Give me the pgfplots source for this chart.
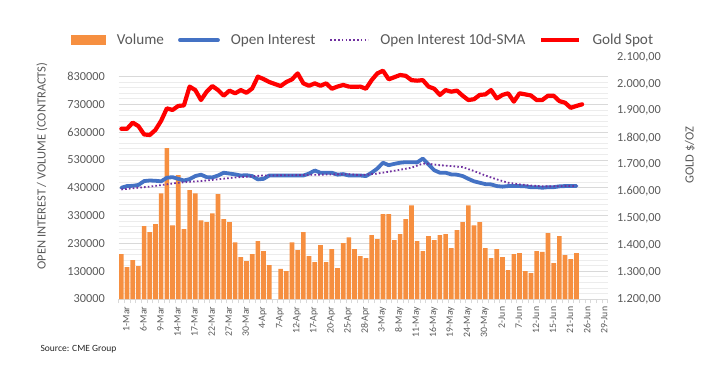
\documentclass[border=0pt]{standalone}
\usepackage{pgfplots}
\pgfplotsset{compat=1.18}
\usepackage{fontspec}
\setmainfont{Carlito}
\definecolor{volc}{RGB}{246,143,64}
\definecolor{oic}{RGB}{68,114,196}
\definecolor{smac}{RGB}{112,48,160}
\definecolor{txt}{RGB}{89,89,89}
\definecolor{gridc}{RGB}{217,217,217}
\definecolor{gridm}{RGB}{236,236,236}
\pgfplotsset{
  linelegend/.style={legend image code/.code={\draw[##1] (0bp,0bp) -- (38bp,0bp);}},
  barlegend/.style={legend image code/.code={\fill[volc] (0bp,-5bp) rectangle (35bp,5bp);}},
}

\begin{document}
\begin{tikzpicture}[x=1bp,y=1bp]
\path[use as bounding box] (0,0) rectangle (721,381);
\begin{axis}[
  at={(118.5bp,82bp)}, anchor=south west,
  width=489.2bp, height=242bp, scale only axis,
  xmin=-0.5, xmax=85.5, ymin=30000, ymax=900000,
  ytick={30000,130000,...,830000},
  minor y tick num=4,
  ymajorgrids, yminorgrids,
  major grid style={gridc, line width=0.7bp},
  minor grid style={gridm, line width=0.6bp},
  axis x line*=bottom, axis y line*=left,
  x axis line style={gridc, line width=0.8bp},
  y axis line style={draw=none},
  ytick style={draw=none},
  scaled y ticks=false,
  yticklabel={\pgfmathprintnumber[fixed, precision=0, 1000 sep={}, assume math mode=true]{\tick}},
  y tick label style={font=\fontsize{12.3bp}{14bp}\selectfont, text=txt, xshift=-6bp},
  xtick={0,3,...,84},
  xticklabels={1-Mar,6-Mar,9-Mar,14-Mar,17-Mar,22-Mar,27-Mar,30-Mar,4-Apr,7-Apr,12-Apr,17-Apr,20-Apr,25-Apr,28-Apr,3-May,8-May,11-May,16-May,19-May,24-May,30-May,2-Jun,7-Jun,12-Jun,15-Jun,21-Jun,26-Jun,29-Jun},
  x tick label style={rotate=90, anchor=east, font=\fontsize{9.8bp}{11bp}\selectfont, text=txt, yshift=-5bp},
  major x tick style={draw=none},
  minor xtick={-0.5,0.5,...,85.5},
  minor x tick style={gridc, line width=0.6bp},
  minor tick length=4bp, tick align=outside,
  legend columns=4,
  legend style={at={(axis description cs:0.4998,1.07)}, anchor=center, draw=none, fill=none,
    font=\fontsize{15.2bp}{17bp}\selectfont, text=txt,
    /tikz/every odd column/.append style={column sep=9bp},
    /tikz/every even column/.append style={column sep=12bp}},
  clip=true,
]
\addplot[ybar, bar width=0.82, fill=volc, draw=none, barlegend]
  table[row sep=\\]{
x y\\
0 191000\\ 1 145000\\ 2 170000\\ 3 148000\\ 4 292000\\ 5 270000\\ 6 299000\\ 7 410000\\
8 572000\\ 9 295000\\ 10 475000\\ 11 281000\\ 12 421000\\ 13 410000\\ 14 313000\\ 15 306000\\
16 338000\\ 17 407000\\ 18 317000\\ 19 306000\\ 20 234000\\ 21 181000\\ 22 166000\\ 23 191000\\
24 238000\\ 25 202000\\ 26 152000\\ 28 138000\\ 29 130000\\ 30 234000\\ 31 206000\\ 32 270000\\
33 184000\\ 34 163000\\ 35 224000\\ 36 163000\\ 37 209000\\ 38 141000\\ 39 231000\\ 40 252000\\
41 209000\\ 42 184000\\ 43 177000\\ 44 260000\\ 45 245000\\ 46 335000\\ 47 335000\\ 48 242000\\
49 263000\\ 50 317000\\ 51 367000\\ 52 238000\\ 53 202000\\ 54 256000\\ 55 242000\\ 56 260000\\
57 263000\\ 58 213000\\ 59 278000\\ 60 306000\\ 61 367000\\ 62 295000\\ 63 306000\\ 64 213000\\
65 177000\\ 66 209000\\ 67 181000\\ 68 134000\\ 69 191000\\ 70 195000\\ 71 130000\\ 72 123000\\
73 202000\\ 74 199000\\ 75 267000\\ 76 159000\\ 77 256000\\ 78 188000\\ 79 173000\\ 80 195000\\
};
\addlegendentry{Volume}
\addplot[oic, line width=3.8bp, line join=round, line cap=round, linelegend]
  table[row sep=\\]{
x y\\
0 430000\\ 1 436000\\ 2 437000\\ 3 440000\\ 4 454000\\ 5 456000\\ 6 455000\\ 7 453000\\
8 466000\\ 9 468000\\ 10 462000\\ 11 456000\\ 12 461000\\ 13 472000\\ 14 477000\\ 15 468000\\
16 467000\\ 17 474000\\ 18 484000\\ 19 481000\\ 20 478000\\ 21 474000\\ 22 475000\\ 23 472000\\
24 460000\\ 25 462000\\ 26 474000\\ 28 474000\\ 29 474000\\ 30 474000\\ 31 474000\\ 32 474000\\
33 481000\\ 34 492000\\ 35 484000\\ 36 484000\\ 37 484000\\ 38 477000\\ 39 479000\\ 40 474000\\
41 474000\\ 42 474000\\ 43 472000\\ 44 484000\\ 45 499000\\ 46 520000\\ 47 511000\\ 48 516000\\
49 520000\\ 50 522000\\ 51 522000\\ 52 521000\\ 53 535000\\ 54 514000\\ 55 493000\\ 56 484000\\
57 484000\\ 58 478000\\ 59 477000\\ 60 472000\\ 61 462000\\ 62 453000\\ 63 448000\\ 64 443000\\
65 442000\\ 66 436000\\ 67 434000\\ 68 436000\\ 69 436000\\ 70 436000\\ 71 435000\\ 72 432000\\
73 432000\\ 74 430000\\ 75 432000\\ 76 432000\\ 77 435000\\ 78 436000\\ 79 436000\\ 80 436000\\
};
\addlegendentry{Open Interest}
\addplot[smac, line width=1.8bp, dash pattern=on 1.6bp off 2.2bp, linelegend]
  table[row sep=\\]{
x y\\
0 424000\\ 5 434000\\ 10 448000\\ 15 456000\\ 20 467000\\ 25 474000\\ 30 475000\\ 35 477000\\
40 479000\\ 42 475000\\ 45 481000\\ 48 491000\\ 51 502000\\ 53 517000\\ 54 516000\\ 56 511000\\
58 508000\\ 60 504000\\ 62 490000\\ 64 474000\\ 66 460000\\ 68 448000\\ 70 442000\\ 72 438000\\
74 435000\\ 76 435000\\ 78 436000\\ 80 436000\\
};
\addlegendentry{Open Interest 10d-SMA}
\addlegendimage{red, line width=4.2bp, linelegend}
\addlegendentry{Gold Spot}
\end{axis}
\begin{axis}[
  at={(118.5bp,82bp)}, anchor=south west,
  width=489.2bp, height=242bp, scale only axis,
  xmin=-0.5, xmax=85.5, ymin=1200, ymax=2100,
  axis x line=none, axis y line*=right,
  y axis line style={draw=none},
  ytick={1200,1300,...,2100},
  ytick style={draw=none},
  yticklabel={\pgfmathprintnumber[fixed, fixed zerofill, precision=2, use comma, 1000 sep={.}, assume math mode=true]{\tick}},
  y tick label style={font=\fontsize{12.3bp}{14bp}\selectfont, text=txt, xshift=6bp},
]
\addplot[red, line width=4.2bp, line join=round, line cap=round] table[row sep=\\]{
x y\\
0 1833\\ 1 1833\\ 2 1856\\ 3 1843\\ 4 1812\\ 5 1810\\ 6 1829\\ 7 1863\\
8 1909\\ 9 1903\\ 10 1918\\ 11 1920\\ 12 1990\\ 13 1977\\ 14 1940\\ 15 1971\\
16 1992\\ 17 1977\\ 18 1956\\ 19 1975\\ 20 1965\\ 21 1977\\ 22 1967\\ 23 1983\\
24 2027\\ 25 2018\\ 26 2007\\ 28 1992\\ 29 2007\\ 30 2017\\ 31 2039\\ 32 2002\\
33 1993\\ 34 2002\\ 35 1993\\ 36 2002\\ 37 1982\\ 38 1990\\ 39 1996\\ 40 1990\\
41 1989\\ 42 1990\\ 43 1982\\ 44 2014\\ 45 2039\\ 46 2049\\ 47 2017\\ 48 2025\\
49 2033\\ 50 2030\\ 51 2014\\ 52 2012\\ 53 2014\\ 54 1990\\ 55 1982\\ 56 1959\\
57 1977\\ 58 1971\\ 59 1975\\ 60 1956\\ 61 1940\\ 62 1943\\ 63 1959\\ 64 1961\\
65 1977\\ 66 1946\\ 67 1959\\ 68 1965\\ 69 1934\\ 70 1965\\ 71 1961\\ 72 1957\\
73 1940\\ 74 1940\\ 75 1956\\ 76 1956\\ 77 1936\\ 78 1930\\ 79 1911\\ 80 1918\\ 81 1924\\
};
\end{axis}
\node[rotate=90, text=txt, font=\fontsize{12.5bp}{14bp}\selectfont] at (42,215) {OPEN INTEREST / VOLUME (CONTRACTS)};
\node[rotate=90, text=txt, font=\fontsize{12.5bp}{14bp}\selectfont] at (690,226) {GOLD \$/OZ};
\node[anchor=west, text=black!85, font=\fontsize{9.5bp}{11bp}\selectfont] at (37,32) {Source: CME Group};
\end{tikzpicture}
\end{document}
